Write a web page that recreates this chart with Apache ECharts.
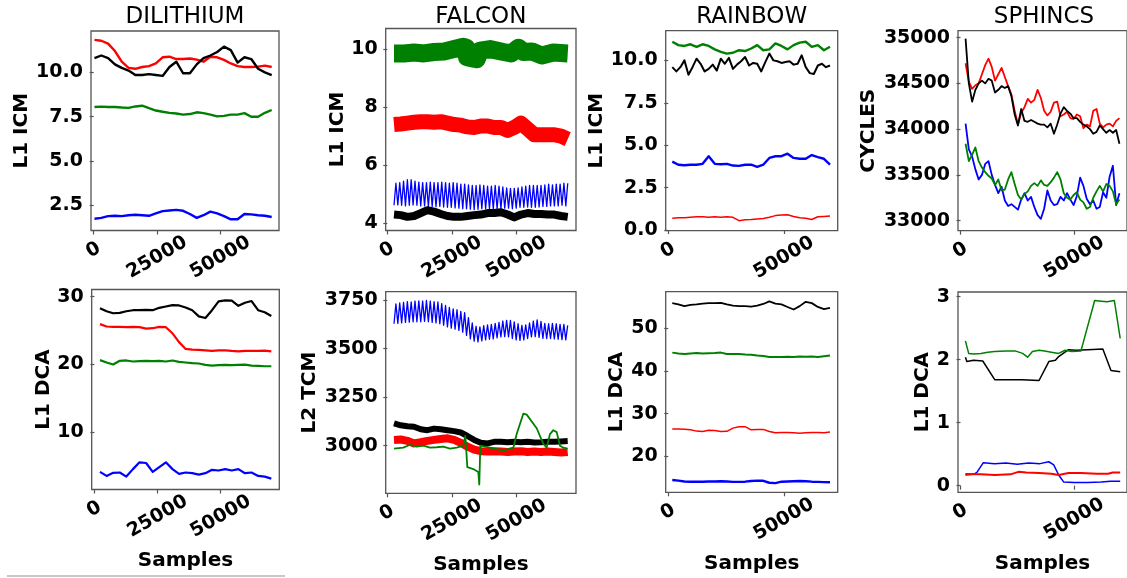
<!DOCTYPE html>
<html>
<head>
<meta charset="utf-8">
<script src="https://cdn.jsdelivr.net/npm/echarts@6/dist/echarts.min.js"></script>
<style>
html, body { margin: 0; padding: 0; background: #fff; }
#main { width: 1127px; height: 578px; }
</style>
</head>
<body>
<div id="main"></div>
<script>
// ---------------- data ----------------
// x of a series runs evenly over its sample range unless given as [sample, value] pairs

// DILITHIUM, L1 ICM
var dilIcmSamples = [300, 70300];
var dilIcmRed = [11.83,11.78,11.62,11.2,10.6,10.25,10.2,10.3,10.35,10.5,10.85,10.88,10.75,10.75,10.78,10.72,10.6,10.88,10.85,10.7,10.5,10.35,10.3,10.3,10.32,10.38,10.3];
var dilIcmBlack = [10.8,10.95,10.8,10.45,10.25,10.1,9.85,9.85,9.9,9.85,9.8,10.3,10.6,9.95,9.95,10.45,10.8,10.95,11.15,11.45,11.25,10.55,10.85,10.75,10.2,10.0,9.85];
var dilIcmGreen = [8.05,8.07,8.05,8.05,8.02,8.0,8.08,8.12,7.98,7.85,7.78,7.72,7.68,7.62,7.65,7.75,7.7,7.62,7.52,7.55,7.62,7.62,7.7,7.5,7.5,7.72,7.88];
var dilIcmBlue = [1.75,1.8,1.9,1.92,1.9,1.95,1.98,1.95,1.92,2.05,2.18,2.22,2.25,2.2,2.02,1.8,1.95,2.15,2.05,1.9,1.72,1.72,2.02,2.0,1.95,1.92,1.85];

// FALCON, L1 ICM
var falIcmSamples = [2600, 69940];
var falIcmGreen = [[2600,9.85],[6500,9.85],[10360,9.88],[14200,9.85],[18110,9.9],[22000,9.92],[25870,10.0],[29490,10.08],[30520,10.05],[30910,9.72],[33000,9.68],[34660,9.65],[35430,9.62],[35950,9.95],[39830,10.0],[45000,9.9],[48000,9.85],[50810,10.05],[52750,9.9],[56000,9.92],[59860,9.78],[64380,9.88],[69940,9.85]];
var falIcmRed = [7.4,7.42,7.45,7.48,7.5,7.5,7.48,7.5,7.45,7.4,7.38,7.32,7.3,7.35,7.35,7.3,7.3,7.2,7.3,7.45,7.25,7.05,7.05,7.05,7.05,7.0,6.9];
var falIcmBlack = [4.3,4.28,4.22,4.25,4.35,4.45,4.4,4.32,4.25,4.22,4.22,4.25,4.28,4.3,4.35,4.35,4.38,4.3,4.2,4.3,4.35,4.32,4.32,4.3,4.3,4.25,4.22];
var falIcmBlueHi = [5.38,5.4,5.45,5.5,5.5,5.45,5.42,5.4,5.4,5.42,5.4,5.4,5.42,5.4,5.38,5.4,5.38,5.35,5.35,5.32,5.3,5.3,5.32,5.3,5.28,5.28,5.3,5.28,5.25,5.22,5.2,5.2,5.22,5.25,5.28,5.3,5.3,5.3,5.3,5.32,5.35,5.32,5.35,5.35,5.38,5.38];
var falIcmBlueLo = [4.62,4.63,4.62,4.6,4.62,4.63,4.62,4.6,4.6,4.58,4.58,4.57,4.58,4.56,4.55,4.55,4.53,4.52,4.5,4.5,4.48,4.47,4.48,4.5,4.5,4.5,4.49,4.5,4.5,4.52,4.52,4.5,4.52,4.55,4.55,4.56,4.55,4.55,4.56,4.58,4.58,4.6,4.6,4.6,4.62,4.6];

// RAINBOW, L1 ICM
var rainIcmSamples = [1750, 69970];
var rainIcmGreen = [11.1,10.9,10.85,10.95,10.8,10.95,10.85,10.65,10.5,10.4,10.45,10.6,10.55,10.7,10.9,10.6,10.65,11.0,10.85,10.65,10.9,11.05,11.1,10.8,10.9,10.6,10.8];
var rainIcmBlack = [9.6,9.35,9.6,10.0,9.15,9.6,10.1,9.8,9.35,9.5,9.75,9.4,10.1,9.8,10.15,9.5,9.75,9.95,10.2,9.7,9.85,9.8,9.35,9.9,10.4,10.0,9.95,9.85,9.9,9.95,9.75,9.8,10.3,9.6,9.25,9.2,9.7,9.8,9.6,9.7];
var rainIcmBlue = [4.03,3.85,3.82,3.85,3.85,3.9,4.35,3.9,3.88,3.9,3.8,3.78,3.85,3.85,3.72,3.85,4.25,4.35,4.35,4.5,4.25,4.2,4.2,4.42,4.3,4.2,3.85];
var rainIcmRed = [0.7,0.72,0.72,0.75,0.78,0.78,0.75,0.78,0.76,0.78,0.75,0.55,0.6,0.62,0.65,0.68,0.75,0.85,0.88,0.9,0.8,0.72,0.7,0.62,0.78,0.8,0.82];

// SPHINCS, CYCLES
var sphCycSamples = [2230, 69970];
var sphCycRed = [34720,34520,34440,34480,34500,34600,34700,34770,34680,34530,34600,34670,34570,34470,34380,34200,34050,34180,34240,34330,34290,34320,34430,34340,34200,34150,34190,34290,34300,34140,34160,34190,34120,34110,34160,34140,34010,34050,34030,34200,34220,34060,34020,34050,34060,34030,34090,34120];
var sphCycBlack = [34990,34500,34300,34430,34500,34530,34500,34550,34530,34400,34430,34470,34450,34470,34360,34160,34040,34220,34090,34080,34100,34080,34060,34050,34050,34020,34060,33950,34050,34170,34240,34200,34170,34120,34120,34080,34050,34030,34000,33950,33970,34040,34000,33960,33990,33960,33990,33840];
var sphCycGreen = [33840,33650,33720,33800,33650,33580,33530,33490,33460,33390,33450,33330,33340,33450,33530,33400,33280,33230,33290,33320,33380,33410,33380,33440,33390,33380,33420,33470,33530,33450,33300,33250,33230,33280,33310,33230,33200,33130,33150,33250,33320,33380,33320,33400,33380,33320,33180,33230];
var sphCycBlue = [34060,33780,33700,33560,33450,33500,33620,33650,33500,33390,33300,33370,33220,33160,33180,33150,33120,33230,33300,33220,33260,33150,33060,33020,33130,33330,33220,33170,33180,33260,33220,33300,33230,33170,33270,33470,33380,33240,33180,33220,33130,33150,33310,33250,33480,33600,33170,33300];

// DILITHIUM, L1 DCA
var dilDcaSamples = [2210, 70020];
var dilDcaBlack = [28.3,27.85,27.55,27.6,27.85,28.0,28.0,28.05,28.0,28.35,28.55,28.75,28.7,28.4,28.0,27.1,26.85,28.0,29.3,29.45,29.4,28.65,29.1,29.35,28.0,27.7,27.15];
var dilDcaRed = [25.95,25.6,25.55,25.55,25.5,25.55,25.5,25.3,25.35,25.55,25.5,24.6,23.3,22.3,22.2,22.15,22.1,22.0,22.1,22.1,22.0,21.95,22.0,22.0,22.0,22.05,21.95];
var dilDcaGreen = [20.65,20.3,20.0,20.55,20.6,20.45,20.5,20.55,20.5,20.55,20.45,20.6,20.4,20.3,20.2,20.15,19.95,19.85,19.9,19.95,19.9,19.95,20.0,19.85,19.8,19.75,19.75];
var dilDcaBlue = [4.2,3.6,4.05,4.1,3.5,4.6,5.6,5.5,4.2,4.9,5.6,4.6,3.9,4.1,4.0,3.8,4.0,4.5,4.4,4.6,4.4,4.6,4.0,4.1,3.6,3.5,3.2];

// FALCON, L2 TCM
var falTcmSamples = [2600, 69920];
var falTcmBlueHi = [3730,3735,3738,3742,3740,3745,3746,3745,3748,3745,3742,3740,3732,3722,3712,3705,3700,3692,3685,3660,3632,3615,3612,3618,3622,3625,3630,3635,3642,3645,3645,3638,3628,3620,3622,3632,3642,3648,3640,3630,3628,3630,3628,3625,3625,3620];
var falTcmBlueLo = [3628,3630,3632,3635,3636,3638,3638,3638,3640,3638,3635,3632,3628,3620,3612,3605,3600,3594,3585,3568,3550,3538,3535,3540,3545,3548,3550,3555,3560,3562,3560,3552,3545,3542,3545,3552,3560,3562,3558,3553,3552,3552,3550,3548,3546,3545];
var falTcmBlack = [3115,3105,3100,3098,3085,3080,3088,3085,3080,3075,3068,3050,3030,3015,3012,3020,3020,3018,3020,3018,3020,3017,3018,3020,3020,3022,3024];
var falTcmRed = [3030,3032,3025,3012,3018,3025,3030,3035,3038,3030,3015,2995,2980,2972,2970,2972,2970,2968,2970,2972,2968,2970,2968,2970,2968,2965,2968];
var falTcmGreen = [[2600,2985],[6200,2990],[8800,3005],[11400,2995],[13950,3000],[16550,2990],[19150,2992],[21700,2995],[24300,2985],[26900,2990],[29460,3000],[30240,3050],[30500,3000],[31010,2890],[33330,2880],[35270,2865],[35660,2800],[36050,3000],[39810,2990],[44960,2975],[48840,2990],[50150,3060],[52720,3165],[54030,3160],[57900,3090],[60460,3010],[61780,2990],[63060,3060],[64350,3080],[65650,3070],[66930,3000],[68210,2990],[69920,2985]];

// RAINBOW, L1 DCA
var rainDcaSamples = [1750, 69970];
var rainDcaBlack = [55.9,55.6,55.2,55.5,55.6,55.8,55.9,55.9,55.95,55.6,55.3,55.2,55.2,55.1,55.3,55.7,56.3,55.8,55.6,55.0,54.4,55.2,56.2,55.9,55.0,54.5,54.8];
var rainDcaGreen = [44.3,44.1,44.0,44.1,44.2,44.1,44.15,44.2,44.3,44.0,43.95,44.0,43.85,43.8,43.6,43.5,43.3,43.25,43.3,43.35,43.3,43.4,43.35,43.4,43.3,43.45,43.6];
var rainDcaRed = [26.4,26.4,26.35,26.2,25.9,25.8,26.1,26.05,25.8,25.85,26.6,26.9,26.95,26.2,26.3,26.3,25.8,25.5,25.55,25.6,25.5,25.4,25.5,25.6,25.55,25.5,25.7];
var rainDcaBlue = [14.45,14.3,14.1,14.05,14.05,14.05,14.1,14.1,14.15,14.1,14.0,14.0,14.05,14.2,14.3,14.25,13.8,13.7,14.05,14.1,14.15,14.2,14.15,14.05,14.0,13.95,13.9];

// SPHINCS, L1 DCA
var sphDcaGreen = [[2160,2.30],[3590,2.10],[5750,2.09],[9000,2.10],[12000,2.12],[15000,2.13],[20000,2.14],[24000,2.14],[27350,2.10],[29520,2.04],[31680,2.13],[34570,2.15],[37000,2.14],[40000,2.12],[43220,2.10],[46000,2.15],[49000,2.13],[53030,2.14],[59070,2.94],[62000,2.93],[64500,2.92],[67720,2.94],[70310,2.34]];
var sphDcaBlack = [[2160,2.04],[2800,1.97],[5750,1.99],[9810,1.98],[15130,1.68],[20000,1.68],[27000,1.68],[34570,1.67],[38890,1.97],[41790,1.99],[43220,2.05],[47540,2.16],[51000,2.15],[56000,2.16],[62660,2.17],[66250,1.83],[70310,1.81]];
var sphDcaBlue = [[2160,0.17],[5750,0.18],[7220,0.21],[10070,0.365],[15000,0.35],[20000,0.36],[25000,0.34],[30000,0.36],[35000,0.35],[38890,0.38],[41050,0.33],[43220,0.17],[45380,0.06],[50000,0.05],[56000,0.05],[62000,0.06],[66000,0.07],[70310,0.07]];
var sphDcaRed = [[2160,0.185],[9000,0.18],[15130,0.17],[22000,0.18],[25500,0.22],[29000,0.21],[34570,0.2],[40000,0.19],[43220,0.17],[47540,0.2],[53000,0.2],[60000,0.19],[65000,0.19],[67000,0.21],[70310,0.21]];

var titles = ['DILITHIUM', 'FALCON', 'RAINBOW', 'SPHINCS'];
var yNames = ['L1 ICM', 'L1 ICM', 'L1 ICM', 'CYCLES', 'L1 DCA', 'L2 TCM', 'L1 DCA', 'L1 DCA'];
var xTicksWide = [0, 25000, 50000];
var xTicksNarrow = [0, 50000];

// ---------------- helpers ----------------
function spread(vals, range){
    var out = [];
    var step = (range[1] - range[0]) / (vals.length - 1);
    for (var i = 0; i < vals.length; i++){
        out.push([range[0] + i * step, vals[i]]);
    }
    return out;
}

function zigzag(hi, lo, range){
    var vals = [];
    for (var i = 0; i < hi.length; i++){
        vals.push(lo[i]);
        vals.push(hi[i]);
    }
    return spread(vals, range);
}

var RED = '#ff0000', GREEN = '#008000', BLUE = '#0000ff', BLACK = '#000000';

// panel layout: box = [left, top, width, height]
var panels = [
    {box: [91, 31, 188, 199.5],      x: [-1070, 73180], xt: xTicksWide,   y: [1.09, 12.33],  yt: [2.5, 5, 7.5, 10],      dec: 1, gap: 59},
    {box: [385.7, 28.5, 190.3, 202], x: [-620, 73140],  xt: xTicksWide,   y: [3.75, 10.71],  yt: [4, 6, 8, 10],          dec: 0, gap: 37},
    {box: [665.7, 30.7, 172, 200],   x: [-1100, 73300], xt: xTicksNarrow, y: [-0.04, 11.75], yt: [0, 2.5, 5, 7.5, 10],   dec: 1, gap: 59},
    {box: [958, 30.7, 172, 200],     x: [-1100, 73300], xt: xTicksNarrow, y: [32890, 35076], yt: [33000, 33500, 34000, 34500, 35000], dec: 0, gap: 79.5},
    {box: [91.7, 289.5, 187.6, 200], x: [-1070, 73180], xt: xTicksWide,   y: [1.6, 31.05],   yt: [10, 20, 30],           dec: 0, gap: 38},
    {box: [385.7, 291.7, 190.3, 201.6], x: [-620, 73140], xt: xTicksWide, y: [2755, 3793],   yt: [3000, 3250, 3500, 3750], dec: 0, gap: 66},
    {box: [665.7, 291.7, 172, 200.6], x: [-1100, 73300], xt: xTicksNarrow, y: [11.56, 58.58], yt: [20, 30, 40, 50],      dec: 0, gap: 39},
    {box: [958, 292, 172, 200.3],    x: [-1100, 73300], xt: xTicksNarrow, y: [-0.105, 3.075], yt: [0, 1, 2, 3],          dec: 0, gap: 22.5}
];

// [panel, data, colour, width]
var lines = [
    [0, spread(dilIcmBlue, dilIcmSamples), BLUE, 2.4],
    [0, spread(dilIcmRed, dilIcmSamples), RED, 2.4],
    [0, spread(dilIcmBlack, dilIcmSamples), BLACK, 2.4],
    [0, spread(dilIcmGreen, dilIcmSamples), GREEN, 2.4],

    [1, zigzag(falIcmBlueHi, falIcmBlueLo, falIcmSamples), BLUE, 1.3],
    [1, spread(falIcmRed, falIcmSamples), RED, 15],
    [1, spread(falIcmBlack, falIcmSamples), BLACK, 8],
    [1, falIcmGreen, GREEN, 18],

    [2, spread(rainIcmBlue, rainIcmSamples), BLUE, 2.4],
    [2, spread(rainIcmRed, rainIcmSamples), RED, 1.5],
    [2, spread(rainIcmBlack, rainIcmSamples), BLACK, 2],
    [2, spread(rainIcmGreen, rainIcmSamples), GREEN, 2.4],

    [3, spread(sphCycBlue, sphCycSamples), BLUE, 1.8],
    [3, spread(sphCycRed, sphCycSamples), RED, 1.8],
    [3, spread(sphCycBlack, sphCycSamples), BLACK, 1.8],
    [3, spread(sphCycGreen, sphCycSamples), GREEN, 1.8],

    [4, spread(dilDcaBlue, dilDcaSamples), BLUE, 2.2],
    [4, spread(dilDcaRed, dilDcaSamples), RED, 2.2],
    [4, spread(dilDcaBlack, dilDcaSamples), BLACK, 2.2],
    [4, spread(dilDcaGreen, dilDcaSamples), GREEN, 2.2],

    [5, zigzag(falTcmBlueHi, falTcmBlueLo, falTcmSamples), BLUE, 1.3],
    [5, spread(falTcmRed, falTcmSamples), RED, 8],
    [5, spread(falTcmBlack, falTcmSamples), BLACK, 6],
    [5, falTcmGreen, GREEN, 1.8],

    [6, spread(rainDcaBlue, rainDcaSamples), BLUE, 2.4],
    [6, spread(rainDcaRed, rainDcaSamples), RED, 1.5],
    [6, spread(rainDcaBlack, rainDcaSamples), BLACK, 1.8],
    [6, spread(rainDcaGreen, rainDcaSamples), GREEN, 2],

    [7, sphDcaBlue, BLUE, 1.5],
    [7, sphDcaRed, RED, 2],
    [7, sphDcaBlack, BLACK, 1.5],
    [7, sphDcaGreen, GREEN, 1.5]
];

// ---------------- chart ----------------
var FONT = 'DejaVu Sans';
var boldText = {fontFamily: FONT, fontWeight: 'bold', fontSize: 19, color: '#000'};

var grids = [], xAxes = [], yAxes = [], series = [], graphics = [];

panels.forEach(function(p, i){
    grids.push({
        left: p.box[0], top: p.box[1], width: p.box[2], height: p.box[3],
        show: true, borderColor: '#555', borderWidth: 1.3, containLabel: false
    });
    xAxes.push({
        type: 'value', gridIndex: i, min: p.x[0], max: p.x[1],
        splitLine: {show: false},
        axisLine: {show: false},
        axisTick: {show: true, length: 4, lineStyle: {color: '#555', width: 1.2}, customValues: p.xt},
        axisLabel: Object.assign({
            customValues: p.xt, rotate: 30, align: 'center', verticalAlign: 'middle', margin: 27,
            // the short "0" label sits higher, as in the original
            formatter: function(v){ return v === 0 ? '{z|0}' : String(v); },
            rich: {z: Object.assign({padding: [0, 0, 13, 7]}, boldText)}
        }, boldText),
        name: i >= 4 ? 'Samples' : '',
        nameLocation: 'middle', nameGap: 61,
        nameTextStyle: {fontFamily: FONT, fontWeight: 'bold', fontSize: 20, color: '#000'}
    });
    yAxes.push({
        type: 'value', gridIndex: i, min: p.y[0], max: p.y[1],
        splitLine: {show: false},
        axisLine: {show: false},
        axisTick: {show: true, length: 4, lineStyle: {color: '#555', width: 1.2}, customValues: p.yt},
        axisLabel: Object.assign({
            customValues: p.yt, margin: 8,
            formatter: (function(dec){ return function(v){ return v.toFixed(dec); }; })(p.dec)
        }, boldText),
        name: yNames[i], nameLocation: 'middle', nameGap: p.gap, nameRotate: 90,
        nameTextStyle: {fontFamily: FONT, fontWeight: 'bold', fontSize: 20, color: '#000'}
    });
});

lines.forEach(function(l, k){
    series.push({
        type: 'line', xAxisIndex: l[0], yAxisIndex: l[0],
        data: l[1], showSymbol: false, symbol: 'none', silent: true,
        lineStyle: {color: l[2], width: l[3], join: 'round'},
        z: 2 + (k % 4)
    });
});

titles.forEach(function(t, c){
    var p = panels[c];
    graphics.push({
        type: 'text', x: p.box[0] + p.box[2] / 2, y: 17,
        style: {text: t, align: 'center', verticalAlign: 'middle', fontFamily: FONT, fontSize: 23, fill: '#000'}
    });
});
graphics.push({
    type: 'line', shape: {x1: 7, y1: 576, x2: 285, y2: 576},
    style: {stroke: '#c8c8c8', lineWidth: 2}
});

var chartDom = document.getElementById('main');
var myChart = echarts.init(chartDom, null, {renderer: 'canvas'});
var option = {
    animation: false,
    backgroundColor: '#fff',
    grid: grids,
    xAxis: xAxes,
    yAxis: yAxes,
    series: series,
    graphic: graphics
};
myChart.setOption(option);
</script>
</body>
</html>
